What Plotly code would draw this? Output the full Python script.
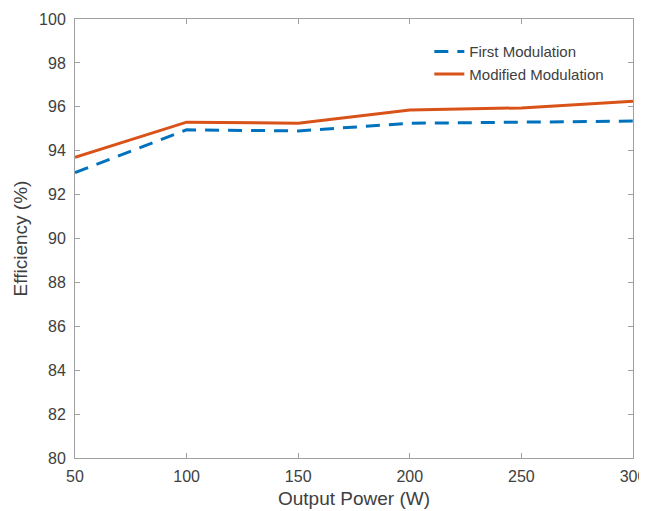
import plotly.graph_objects as go

power = [50, 100, 150, 200, 250, 300]
first_mod = [93.0, 94.95, 94.9, 95.25, 95.3, 95.35]
modified_mod = [93.7, 95.3, 95.25, 95.85, 95.95, 96.25]
y_ticks = list(range(80, 101, 2))
x_ticks = [50, 100, 150, 200, 250, 300]

FONT = "Liberation Sans, Arial"
fig = go.Figure()
fig.add_trace(go.Scatter(x=power, y=first_mod, mode="lines", name="First Modulation",
                         line=dict(color="#0072BD", width=3, dash="14px,9px")))
fig.add_trace(go.Scatter(x=power, y=modified_mod, mode="lines", name="Modified Modulation",
                         line=dict(color="#D95319", width=3)))

axis_common = dict(showline=True, linecolor="#a0a0a0", linewidth=1, mirror="ticks",
                   ticks="inside", ticklen=5, tickcolor="#a0a0a0", showgrid=False,
                   zeroline=False, automargin=False,
                   tickfont=dict(family=FONT, size=16, color="#404040"))
fig.update_xaxes(range=[50, 300], tickvals=x_ticks, ticklabelstandoff=4,
                 title=dict(text="Output Power (W)", font=dict(family=FONT, size=19, color="#404040"), standoff=7),
                 **axis_common)
fig.update_yaxes(range=[80, 100], tickvals=y_ticks, ticklabelstandoff=5,
                 title=dict(text="Efficiency (%)", font=dict(family=FONT, size=19, color="#404040"), standoff=6),
                 **axis_common)
# page body has an 8px margin; compensate so the plot sits where the reference's does
fig.update_layout(
    width=639, height=503,
    margin=dict(l=67, r=14, t=11, b=53),
    plot_bgcolor="white", paper_bgcolor="white",
    showlegend=True,
    legend=dict(x=0.635, y=0.963, xanchor="left", yanchor="top",
                bgcolor="rgba(255,255,255,0)", borderwidth=0, itemwidth=30,
                font=dict(family=FONT, size=15, color="#404040"),
                tracegroupgap=0),
)
fig.write_html("out.html")
